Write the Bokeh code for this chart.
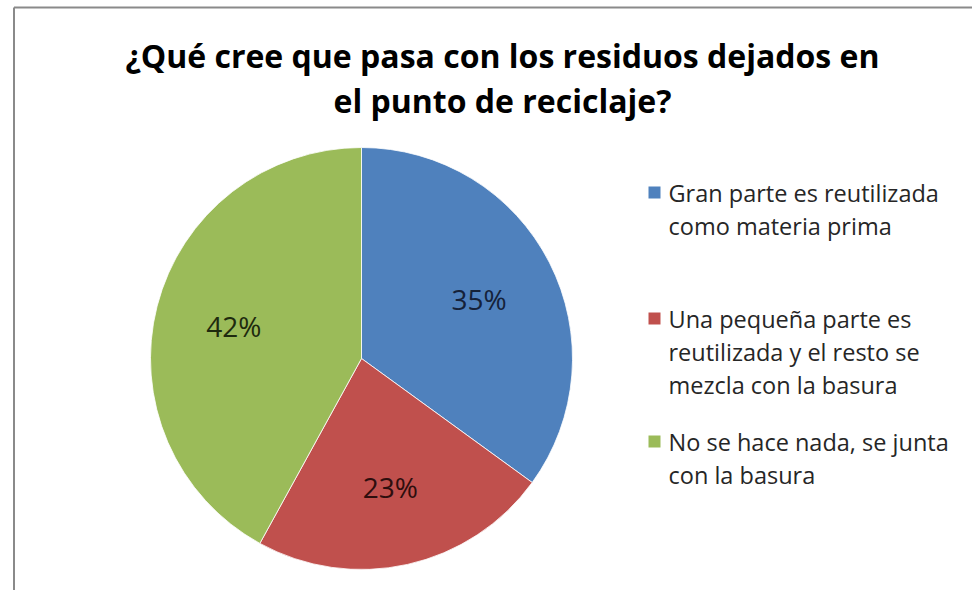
import math
from bokeh.plotting import figure
from bokeh.models import Range1d, ColumnDataSource
from bokeh.core.properties import value
from bokeh.embed import file_html
from bokeh.resources import INLINE

# ---- data ----
title_lines = ["¿Qué cree que pasa con los residuos dejados en", "el punto de reciclaje?"]
categories = [
    "Gran parte es reutilizada\ncomo materia prima",
    "Una pequeña parte es\nreutilizada y el resto se\nmezcla con la basura",
    "No se hace nada, se junta\ncon la basura",
]
shares = [35, 23, 42]
colors = ["#4F81BD", "#C0504D", "#9BBB59"]
label_colors = ["#15223A", "#2E0E0E", "#1E2A0E"]

# ---- layout (page pixel coordinates, y measured downward) ----
W, H = 972, 590
def Y(y_page):
    return H - y_page

cx, cy, R = 361, 358, 211
legend_sq_x = 654
legend_text_x = 668
legend_group_y = [192, 318, 441]
line_step = 33
font = "Open Sans"

p = figure(width=W, height=H, output_backend="svg", toolbar_location=None,
           x_range=Range1d(0, W), y_range=Range1d(0, H),
           min_border=0, min_border_left=0, min_border_right=0,
           min_border_top=0, min_border_bottom=0)
p.axis.visible = False
p.grid.visible = False
p.outline_line_color = None
p.background_fill_color = "white"
p.border_fill_color = "white"

# chart border (left and top edges visible)
p.line(x=[13.5, 13.5], y=[Y(7), Y(620)], line_color="#8a8a8a", line_width=2)
p.line(x=[13.5, 1000], y=[Y(7), Y(7)], line_color="#8a8a8a", line_width=2)

# pie wedges
total = sum(shares)
starts, ends, mids = [], [], []
acc = 0.0
for s in shares:
    a0 = math.pi / 2 - 2 * math.pi * acc / total
    acc += s
    a1 = math.pi / 2 - 2 * math.pi * acc / total
    starts.append(a0)
    ends.append(a1)
    mids.append((a0 + a1) / 2)

src = ColumnDataSource(dict(start=starts, end=ends, color=colors))
p.wedge(x=cx, y=Y(cy), radius=R, start_angle="start", end_angle="end",
        direction="clock", fill_color="color", line_color="white",
        line_width=0.8, source=src)

# percentage labels
lr = 0.625 * R
lx = [cx + lr * math.cos(m) for m in mids]
ly = [Y(cy) + lr * math.sin(m) for m in mids]
p.text(x=lx, y=ly, text=[f"{s}%" for s in shares], text_color=label_colors,
       text_font=value(font), text_font_size="28px",
       text_align="center", text_baseline="middle")

# title
for i, t in enumerate(title_lines):
    p.text(x=[502], y=[Y(55 + 45 * i)], text=[t], text_font=value(font),
           text_font_style="bold", text_font_size="32px", text_color="#000000",
           text_align="center", text_baseline="middle")

# legend
for cat, col, gy in zip(categories, colors, legend_group_y):
    p.scatter(x=[legend_sq_x], y=[Y(gy)], marker="square", size=12,
              fill_color=col, line_color=None)
    lines = cat.split("\n")
    p.text(x=[legend_text_x] * len(lines),
           y=[Y(gy + line_step * k) for k in range(len(lines))],
           text=lines, text_font=value(font), text_font_size="23.5px",
           text_color="#262626", text_align="left", text_baseline="middle")

open("out.html", "w").write(file_html(p, INLINE))
